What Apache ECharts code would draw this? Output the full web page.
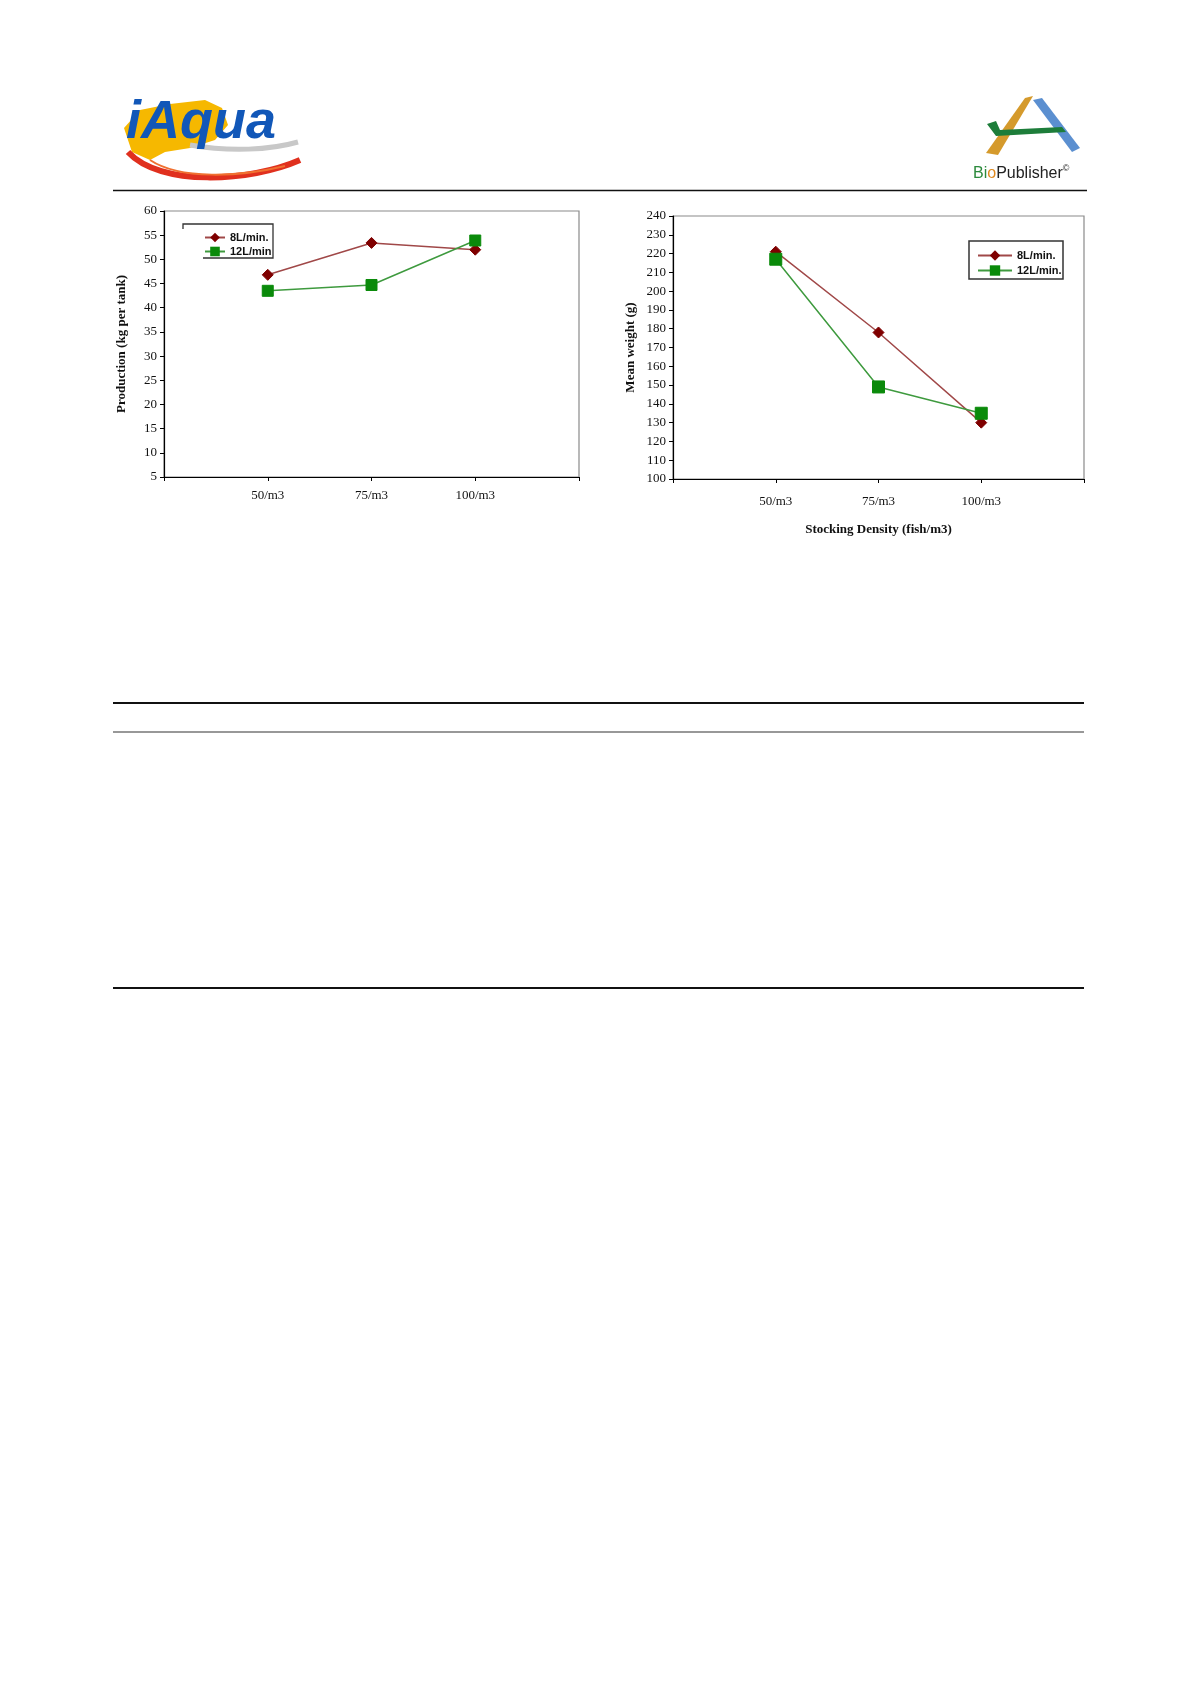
<!DOCTYPE html>
<html>
<head>
<meta charset="utf-8">
<script src="https://cdn.jsdelivr.net/npm/echarts@6/dist/echarts.min.js"></script>
<style>
html,body{margin:0;padding:0;background:#fff;}
#c{width:1197px;height:1693px;}
</style>
</head>
<body>
<div id="c"></div>
<script>
// ---- data ----
var categories = ['50/m3', '75/m3', '100/m3'];
var productionNames = ['8L/min.', '12L/min'];
var production8L = [46.8, 53.4, 52.0];
var production12L = [43.5, 44.7, 53.9];
var weightNames = ['8L/min.', '12L/min.'];
var weight8L = [221, 178, 130];
var weight12L = [217, 149, 135];

// padded category axis (empty slots at both ends)
var axisCats = [''].concat(categories).concat(['']);
function pad(arr){ return [null].concat(arr).concat([null]); }

var RED_LINE = '#a04848', RED_MARK = '#7f0000';
var GRN_LINE = '#3e9a3e', GRN_MARK = '#0a8a0a';
var serif = '"Liberation Serif","Times New Roman",serif';
var sans = '"Liberation Sans",Arial,sans-serif';

var chart = echarts.init(document.getElementById('c'));

function xAx(gi, margin, name){
  return {
    type:'category', gridIndex:gi, data:axisCats, boundaryGap:false,
    axisLine:{lineStyle:{color:'#000', width:1.2}},
    axisTick:{show:true, inside:false, length:4, interval:0, lineStyle:{color:'#000'}},
    axisLabel:{interval:0, margin:margin, color:'#111', fontFamily:serif, fontSize:13},
    splitLine:{show:false},
    name:name||'', nameLocation:'middle', nameGap:44,
    nameTextStyle:{fontFamily:serif, fontWeight:'bold', fontSize:13, color:'#111'}
  };
}
function yAx(gi, min, max, interval, name, gap){
  return {
    type:'value', gridIndex:gi, min:min, max:max, interval:interval,
    axisLine:{show:true, lineStyle:{color:'#000', width:1.2}},
    axisTick:{show:true, inside:false, length:4, lineStyle:{color:'#000'}},
    axisLabel:{color:'#111', fontFamily:serif, fontSize:13, margin:7},
    splitLine:{show:false},
    name:name, nameLocation:'middle', nameRotate:90, nameGap:gap,
    nameTextStyle:{fontFamily:serif, fontWeight:'bold', fontSize:13, color:'#111'}
  };
}
function ser(name, gi, data, lineColor, markColor, symbol, size){
  return {
    name:name, type:'line', xAxisIndex:gi, yAxisIndex:gi, data:pad(data),
    symbol:symbol, symbolSize:size, connectNulls:false,
    lineStyle:{color:lineColor, width:1.5},
    itemStyle:{color:markColor, borderColor:markColor},
    emphasis:{disabled:true}, animation:false
  };
}

var option = {
  backgroundColor:'#fff',
  animation:false,
  grid:[
    {left:164, top:211, width:415, height:266, show:true, borderColor:'#8a8a8a', borderWidth:1.2, backgroundColor:'transparent'},
    {left:673, top:216, width:411, height:263, show:true, borderColor:'#8a8a8a', borderWidth:1.2, backgroundColor:'transparent'}
  ],
  xAxis:[ xAx(0, 12, ''), xAx(1, 16, 'Stocking Density (fish/m3)') ],
  yAxis:[ yAx(0, 5, 60, 5, 'Production (kg per tank)', 36), yAx(1, 100, 240, 10, 'Mean weight (g)', 36) ],
  legend:[
    {data:productionNames, left:199, top:227, orient:'vertical', itemGap:3, itemWidth:20, itemHeight:12,
     textStyle:{fontFamily:sans, fontWeight:'bold', fontSize:11, color:'#111'}, selectedMode:false},
    {data:weightNames, left:972, top:245, orient:'vertical', itemGap:4, itemWidth:34, itemHeight:13,
     textStyle:{fontFamily:sans, fontWeight:'bold', fontSize:11, color:'#111'}, selectedMode:false}
  ],
  series:[
    ser(productionNames[0], 0, production8L, RED_LINE, RED_MARK, 'diamond', 11),
    ser(productionNames[1], 0, production12L, GRN_LINE, GRN_MARK, 'rect', 11),
    ser(weightNames[0], 1, weight8L, RED_LINE, RED_MARK, 'diamond', 11),
    ser(weightNames[1], 1, weight12L, GRN_LINE, GRN_MARK, 'rect', 12)
  ],
  graphic:[
    // header rule
    {type:'line', shape:{x1:113, y1:190.5, x2:1087, y2:190.5}, style:{stroke:'#111', lineWidth:1.5}},
    // legend boxes
    {type:'polyline', shape:{points:[[183,229],[183,224],[273,224],[273,258],[203,258]]}, style:{stroke:'#333', lineWidth:1.3, fill:null}},
    {type:'rect', shape:{x:969, y:241, width:94, height:38}, style:{stroke:'#333', lineWidth:1.5, fill:null}},
    // table rules
    {type:'line', shape:{x1:113, y1:703, x2:1084, y2:703}, style:{stroke:'#111', lineWidth:2}},
    {type:'line', shape:{x1:113, y1:732, x2:1084, y2:732}, style:{stroke:'#333', lineWidth:1.2}},
    {type:'line', shape:{x1:113, y1:988, x2:1084, y2:988}, style:{stroke:'#111', lineWidth:2}},
    // iAqua logo (approximation)
    {type:'polygon', shape:{points:[[124,128],[140,110],[170,104],[205,100],[222,108],[228,125],[215,140],[190,148],[165,152],[150,160],[132,152]]},
     style:{fill:'#f6b800'}},
    {type:'bezierCurve', shape:{x1:190, y1:145, x2:298, y2:142, cpx1:230, cpy1:152, cpx2:270, cpy2:150}, style:{stroke:'#c8c8c8', lineWidth:5, fill:null}},
    {type:'bezierCurve', shape:{x1:128, y1:152, x2:300, y2:160, cpx1:160, cpy1:187, cpx2:250, cpy2:182}, style:{stroke:'#e0301e', lineWidth:6, fill:null}},
    {type:'bezierCurve', shape:{x1:150, y1:160, x2:285, y2:166, cpx1:180, cpy1:180, cpx2:240, cpy2:177}, style:{stroke:'#f07030', lineWidth:2, fill:null}},
    {type:'text', left:126, top:96, style:{text:'iAqua', fill:'#1157b8', font:'italic bold 54px "Liberation Sans",Arial,sans-serif'}},
    // BioPublisher logo (approximation)
    {type:'polygon', shape:{points:[[986,153],[1025,98],[1033,96],[998,155]]}, style:{fill:'#d59a2c'}},
    {type:'polygon', shape:{points:[[1033,100],[1042,98],[1080,148],[1072,152]]}, style:{fill:'#5b8fd0'}},
    {type:'polygon', shape:{points:[[987,124],[996,121],[1000,130],[1062,127],[1066,132],[996,136]]}, style:{fill:'#1d7d3a'}},
    {type:'text', left:973, top:164, style:{
      text:'{g|Bi}{o|o}{k|Publisher}{s|©}',
      rich:{
        g:{fill:'#2c8a3c', font:'16px "Liberation Sans",Arial,sans-serif'},
        o:{fill:'#e08a20', font:'16px "Liberation Sans",Arial,sans-serif'},
        k:{fill:'#222', font:'16px "Liberation Sans",Arial,sans-serif'},
        s:{fill:'#222', font:'9px "Liberation Sans",Arial,sans-serif', verticalAlign:'top', padding:[0,0,10,0]}
      }}}
  ]
};
chart.setOption(option);
</script>
</body>
</html>
